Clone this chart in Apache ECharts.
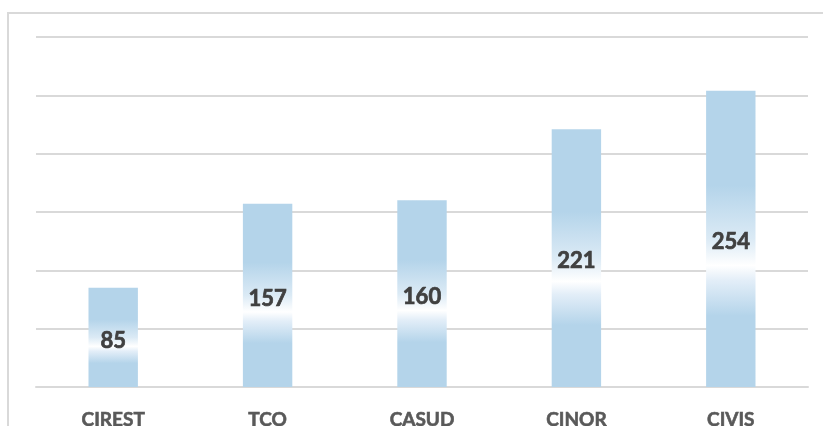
<!DOCTYPE html>
<html>
<head>
<meta charset="utf-8">
<script src="https://cdn.jsdelivr.net/npm/echarts@6/dist/echarts.min.js"></script>
<style>
  html, body { margin: 0; padding: 0; background: #fff; }
  #main { width: 823px; height: 426px; }
</style>
</head>
<body>
<div id="main"></div>
<script>
const categories = ['CIREST', 'TCO', 'CASUD', 'CINOR', 'CIVIS']
const values = [85, 157, 160, 221, 254]
const yTicks = { min: 0, max: 300, interval: 50 }

const chart = echarts.init(document.getElementById('main'))

// bleu pâle avec bande blanche au niveau de l'étiquette
const barFill = new echarts.graphic.LinearGradient(0, 0, 0, 1, [
  { offset: 0, color: '#b4d4ea' },
  { offset: 0.32, color: '#b4d4ea' },
  { offset: 0.5, color: '#dbeaf5' },
  { offset: 0.59, color: '#ffffff' },
  { offset: 0.64, color: '#e3eef8' },
  { offset: 0.76, color: '#b4d4ea' },
  { offset: 1, color: '#b4d4ea' }
])

const option = {
  animation: false,
  graphic: [
    {
      type: 'rect',
      shape: { x: 8, y: 13, width: 900, height: 600 },
      style: { fill: 'none', stroke: '#d9d9d9', lineWidth: 2 },
      silent: true
    }
  ],
  grid: { left: 36, right: 15, top: 37, bottom: 39, outerBoundsMode: 'none', containLabel: false },
  xAxis: {
    type: 'category',
    data: categories,
    axisLine: { lineStyle: { color: '#d9d9d9', width: 2 } },
    axisTick: { show: false },
    axisLabel: {
      margin: 23,
      color: '#595959',
      fontFamily: 'Lato',
      fontWeight: 'bold',
      fontSize: 19,
      textBorderColor: '#595959',
      textBorderWidth: 0.6
    }
  },
  yAxis: {
    type: 'value',
    min: yTicks.min,
    max: yTicks.max,
    interval: yTicks.interval,
    axisLabel: { show: false },
    axisLine: { show: false },
    axisTick: { show: false },
    splitLine: { lineStyle: { color: '#d9d9d9', width: 2 } }
  },
  series: [
    {
      type: 'bar',
      data: values,
      barWidth: '32%',
      itemStyle: { color: barFill },
      label: {
        show: true,
        position: 'inside',
        offset: [0, 3],
        color: '#404040',
        fontFamily: 'Lato',
        fontWeight: 'bold',
        fontSize: 22,
        textBorderColor: '#404040',
        textBorderWidth: 0.7
      }
    }
  ]
}

chart.setOption(option)
</script>
</body>
</html>
